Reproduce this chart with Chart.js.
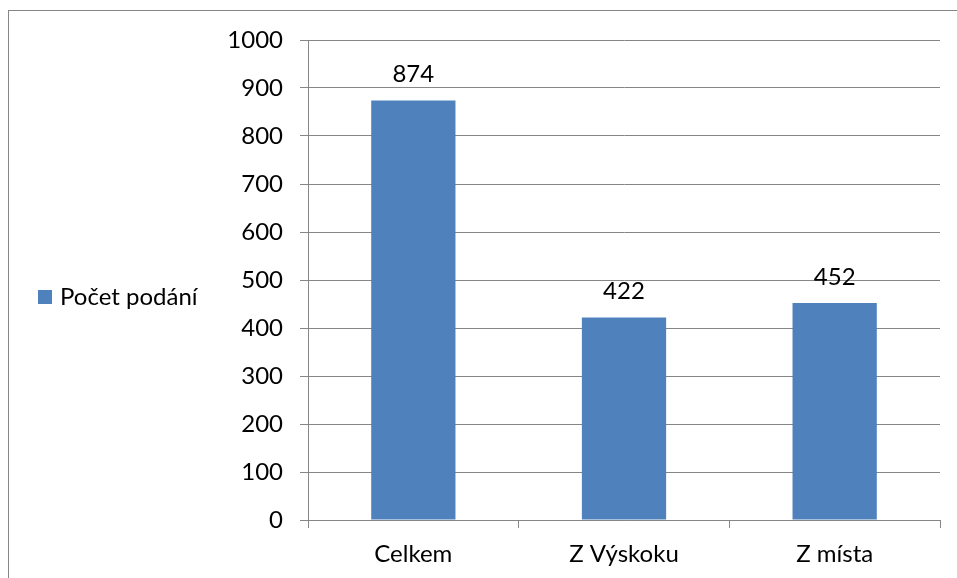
<!DOCTYPE html>
<html>
<head>
<meta charset="utf-8">
<title>Počet podání</title>
<script src="https://cdn.jsdelivr.net/npm/chart.js@4.4.1/dist/chart.umd.min.js"></script>
<style>
    html, body { margin: 0; padding: 0; background: #ffffff; }
</style>
</head>
<body>
<canvas id="podani-chart" width="957" height="578"></canvas>
<script>
// Categories and values
const categories = ["Celkem", "Z Výskoku", "Z místa"];
const seriesName = "Počet podání";
const counts = [874, 422, 452];

// Value axis range
const yMin = 0;
const yMax = 1000;
const yStep = 100;

const BAR_COLOR = "#4F81BD";
const LINE_COLOR = "#868686";
const FONT_SIZE = 24;

Chart.defaults.font.family = "Lato, 'Open Sans', sans-serif";
Chart.defaults.font.size = FONT_SIZE;
Chart.defaults.color = "#000000";

// Thin frame around the whole chart (runs off the right/bottom edge)
const framePlugin = {
    id: "frame",
    beforeDraw(chart) {
        const ctx = chart.ctx;
        ctx.save();
        ctx.strokeStyle = LINE_COLOR;
        ctx.lineWidth = 1;
        ctx.strokeRect(8.5, 10.5, chart.width + 20, chart.height + 20);
        ctx.restore();
    }
};

// Numbers above the bars
const valueLabels = {
    id: "valueLabels",
    afterDatasetsDraw(chart) {
        const ctx = chart.ctx;
        const meta = chart.getDatasetMeta(0);
        ctx.save();
        ctx.font = FONT_SIZE + "px " + Chart.defaults.font.family;
        ctx.fillStyle = "#000000";
        ctx.textAlign = "center";
        ctx.textBaseline = "middle";
        meta.data.forEach((bar, i) => {
            ctx.fillText(String(chart.data.datasets[0].data[i]), bar.x, bar.y - 26);
        });
        ctx.restore();
    }
};

// Legend on the left side, like the spreadsheet one
const sideLegend = {
    id: "sideLegend",
    afterDraw(chart) {
        const ctx = chart.ctx;
        const ds = chart.data.datasets[0];
        const y = 297;
        ctx.save();
        ctx.fillStyle = ds.backgroundColor;
        ctx.fillRect(38, y - 7, 14, 14);
        ctx.font = FONT_SIZE + "px " + Chart.defaults.font.family;
        ctx.fillStyle = "#000000";
        ctx.textAlign = "left";
        ctx.textBaseline = "middle";
        ctx.fillText(ds.label, 60, y);
        ctx.restore();
    }
};

new Chart("podani-chart", {
    type: "bar",
    data: {
        labels: categories,
        datasets: [{
            label: seriesName,
            data: counts,
            backgroundColor: BAR_COLOR,
            categoryPercentage: 1.0,
            barPercentage: 0.4
        }]
    },
    options: {
        responsive: false,
        animation: false,
        layout: {
            padding: { left: 0, right: 17, top: 40, bottom: 0 }
        },
        plugins: {
            legend: { display: false },
            tooltip: { enabled: false }
        },
        scales: {
            x: {
                grid: {
                    offset: true,
                    drawOnChartArea: false,
                    drawTicks: true,
                    tickLength: 8,
                    color: LINE_COLOR
                },
                border: { color: LINE_COLOR, width: 1 },
                ticks: { padding: 12, maxRotation: 0 },
                afterFit(scale) {
                    scale.height = 58;
                }
            },
            y: {
                min: yMin,
                max: yMax,
                ticks: {
                    stepSize: yStep,
                    padding: 17,
                    callback: (value) => String(value)
                },
                grid: {
                    color: LINE_COLOR,
                    tickLength: 8
                },
                border: { color: LINE_COLOR, width: 1 },
                afterFit(scale) {
                    scale.width = 308;
                }
            }
        }
    },
    plugins: [framePlugin, valueLabels, sideLegend]
});
</script>
</body>
</html>
